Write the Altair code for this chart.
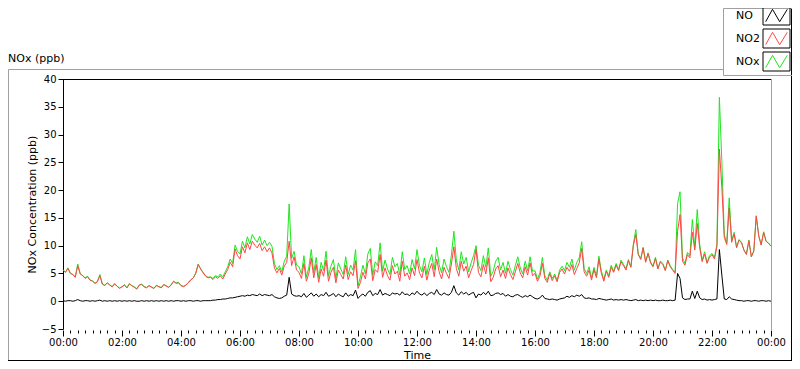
import altair as alt
import pandas as pd

# ---- data (5-minute samples, 00:00 .. 24:00) ----
NO2 = [
    5.6, 5.2, 5.9, 5.0, 4.8, 4.3, 6.4, 4.9, 4.6, 4.1, 4.4, 3.8,
    3.6, 3.2, 3.5, 4.6, 3.1, 2.8, 3.3, 2.9, 2.6, 3.1, 2.7, 2.3,
    2.6, 2.9, 2.4, 3.1, 2.8, 2.5, 2.2, 2.9, 3.0, 2.6, 2.4, 2.8,
    2.5, 2.3, 2.8, 2.6, 2.4, 3.0, 2.7, 2.5, 2.9, 3.6, 3.2, 3.3,
    2.8, 2.6, 2.9, 3.3, 3.8, 4.2, 5.0, 6.6, 5.8, 5.1, 4.5, 4.2,
    4.3, 3.9, 4.4, 4.1, 4.6, 4.0, 4.9, 5.7, 7.0, 6.2, 9.4, 8.2,
    7.6, 9.8, 8.7, 10.5, 9.3, 10.8, 10.1, 9.6, 10.4, 9.1, 9.8, 8.9,
    9.6, 8.7, 6.0, 5.1, 5.9, 4.7, 6.3, 7.0, 10.8, 6.4, 8.0, 5.6,
    5.2, 4.1, 6.8, 3.6, 5.0, 7.8, 4.2, 6.6, 3.4, 5.8, 4.5, 7.4,
    3.6, 5.2, 6.1, 3.3, 5.6, 4.8, 4.0, 6.5, 3.9, 5.3, 4.6, 7.3,
    2.3, 3.4, 5.2, 4.0, 6.9, 7.6, 3.7, 5.7, 5.2, 8.4, 4.3, 6.0,
    4.6, 3.8, 6.4, 4.9, 5.4, 3.6, 7.2, 4.5, 5.1, 3.9, 6.0, 4.6,
    7.5, 5.1, 4.2, 6.3, 3.8, 5.6, 6.8, 4.4, 7.6, 5.3, 4.0, 6.1,
    5.0, 4.1, 6.7, 9.8, 5.9, 4.5, 7.2, 5.4, 6.3, 4.2, 5.5, 6.6,
    9.4, 5.2, 4.4, 6.6, 4.9, 7.8, 3.5, 4.3, 5.8, 6.4, 4.4, 5.6,
    4.1, 6.0, 4.8, 3.9, 5.3, 6.8, 5.1, 4.2, 6.2, 4.7, 6.9, 4.6,
    5.0, 3.6, 4.5, 6.8, 4.1, 3.4, 5.0, 3.7, 4.6, 3.5, 5.2, 5.8,
    4.9, 6.1, 5.4, 6.6, 4.8, 5.9, 6.9, 9.5, 5.3, 4.5, 5.6, 3.8,
    5.7, 4.2, 7.6, 5.0, 3.6, 5.4, 4.3, 6.1, 5.2, 6.5, 5.5, 7.1,
    6.4, 5.6, 7.3, 6.1, 10.0, 12.0, 8.4, 7.5, 9.6, 7.0, 8.6, 6.9,
    6.2, 7.7, 5.8, 7.1, 6.6, 5.5, 7.3, 6.2, 5.6, 5.0, 12.6, 15.6,
    7.2, 6.5, 8.4, 7.8, 12.4, 9.2, 14.0, 9.6, 7.1, 8.5, 6.8, 7.9,
    8.4, 7.6, 9.8, 27.4, 20.5, 11.5, 10.2, 16.8, 10.6, 12.1, 9.6, 11.0,
    10.5, 9.2, 8.4, 10.9, 8.0, 9.0, 15.3, 11.8, 10.1, 12.4, 10.8, 10.4,
    9.9,
]

NO = [
    0.1, 0.0, 0.1, 0.1, 0.0, 0.1, 0.3, 0.1, 0.0, 0.1, 0.1, 0.0,
    0.1, 0.0, 0.1, 0.2, 0.0, 0.1, 0.0, 0.1, 0.0, 0.1, 0.0, 0.1,
    0.0, 0.1, 0.0, 0.1, 0.0, 0.1, 0.0, 0.0, 0.1, 0.0, 0.1, 0.0,
    0.1, 0.0, 0.1, 0.0, 0.1, 0.0, 0.1, 0.0, 0.1, 0.0, 0.1, 0.1,
    0.0, 0.1, 0.0, 0.1, 0.1, 0.0, 0.1, 0.1, 0.0, 0.1, 0.1, 0.1,
    0.1, 0.2, 0.2, 0.3, 0.3, 0.4, 0.4, 0.5, 0.6, 0.6, 0.7, 0.8,
    0.9, 1.0, 0.9, 1.1, 1.0, 1.2, 1.1, 1.0, 1.3, 1.0, 1.2, 1.1,
    1.0, 1.2, 0.8, 0.6, 0.5, 0.6, 0.9, 1.1, 4.3, 1.3, 1.0, 0.9,
    1.0, 0.8, 1.4, 0.7, 1.1, 1.5, 0.9, 1.3, 0.8, 1.2, 1.0, 1.6,
    0.9, 1.1, 1.4, 0.8, 1.3, 1.0, 0.8, 1.5, 0.9, 1.2, 1.0, 2.0,
    0.5, 1.0, 1.3, 0.9, 1.6, 1.9, 1.0, 1.4, 1.2, 2.1, 1.1, 1.4,
    1.2, 1.0, 1.5, 1.3, 1.4, 1.1, 1.7, 1.2, 1.3, 1.0, 1.5, 1.2,
    1.8, 1.3, 1.1, 1.5, 1.0, 1.4, 1.6, 1.2, 2.1, 1.3, 1.1, 1.5,
    1.2, 1.1, 1.6, 2.8, 1.5, 1.1, 1.7, 1.3, 1.6, 1.1, 1.4, 1.6,
    0.6, 1.3, 1.1, 1.6, 1.2, 1.8, 1.0, 1.1, 1.4, 1.5, 1.2, 1.4,
    0.9, 1.2, 0.9, 0.8, 1.1, 1.2, 0.9, 0.7, 1.0, 0.8, 1.1, 0.8,
    0.5, 0.4, 0.6, 1.1, 0.5, 0.4, 0.3, 0.4, 0.3, 0.2, 0.4, 0.5,
    0.6, 0.9, 0.7, 1.0, 0.8, 1.1, 0.9, 1.2, 0.6, 0.5, 0.6, 0.4,
    0.4, 0.3, 0.5, 0.4, 0.3, 0.2, 0.3, 0.4, 0.2, 0.3, 0.2, 0.3,
    0.2, 0.3, 0.2, 0.1, 0.2, 0.3, 0.1, 0.2, 0.1, 0.2, 0.1, 0.2,
    0.1, 0.2, 0.1, 0.1, 0.2, 0.1, 0.1, 0.2, 0.1, 0.2, 5.0, 4.1,
    0.6, 0.3, 0.4, 0.4, 1.8, 0.5, 1.8, 0.6, 0.3, 0.4, 0.2, 0.3,
    0.2, 0.3, 0.4, 9.3, 4.7, 0.4, 0.3, 0.8, 0.4, 0.3, 0.2, 0.1,
    0.1, 0.0, 0.1, 0.1, 0.0, 0.1, 0.1, 0.0, 0.1, 0.1, 0.0, 0.1,
    0.0,
]

NOX = [
    5.7, 5.2, 6.0, 5.1, 4.8, 4.4, 6.7, 5.0, 4.6, 4.2, 4.5, 3.8,
    3.7, 3.2, 3.6, 4.8, 3.1, 2.9, 3.3, 3.0, 2.6, 3.2, 2.7, 2.4,
    2.6, 3.0, 2.4, 3.2, 2.8, 2.6, 2.2, 2.9, 3.1, 2.6, 2.5, 2.8,
    2.6, 2.3, 2.9, 2.6, 2.5, 3.0, 2.8, 2.5, 3.0, 3.6, 3.3, 3.4,
    2.8, 2.7, 2.9, 3.4, 3.9, 4.2, 5.1, 6.7, 5.8, 5.2, 4.6, 4.3,
    4.4, 4.1, 4.6, 4.4, 4.9, 4.4, 5.3, 6.2, 7.6, 6.8, 10.1, 9.0,
    8.5, 10.8, 9.6, 11.6, 10.3, 12.0, 11.2, 10.6, 11.7, 10.1, 11.0, 10.0,
    10.6, 9.9, 6.8, 5.7, 6.4, 5.3, 7.2, 8.1, 17.5, 7.7, 9.0, 6.5,
    6.2, 4.9, 8.2, 4.3, 6.1, 9.3, 5.1, 7.9, 4.2, 7.0, 5.5, 9.0,
    4.5, 6.3, 7.5, 4.1, 6.9, 5.8, 4.8, 8.0, 4.8, 6.5, 5.6, 9.3,
    2.8, 4.4, 6.5, 4.9, 8.5, 9.5, 4.7, 7.1, 6.4, 10.5, 5.4, 7.4,
    5.8, 4.8, 7.9, 6.2, 6.8, 4.7, 8.9, 5.7, 6.4, 4.9, 7.5, 5.8,
    9.3, 6.4, 5.3, 7.8, 4.8, 7.0, 8.4, 5.6, 9.7, 6.6, 5.1, 7.6,
    6.2, 5.2, 8.3, 12.6, 7.4, 5.6, 8.9, 6.7, 7.9, 5.3, 6.9, 8.2,
    10.0, 6.5, 5.5, 8.2, 6.1, 9.6, 4.5, 5.4, 7.2, 7.9, 5.6, 7.0,
    5.0, 7.2, 5.7, 4.7, 6.4, 8.0, 6.0, 4.9, 7.2, 5.5, 8.0, 5.4,
    5.5, 4.0, 5.1, 7.9, 4.6, 3.8, 5.3, 4.1, 4.9, 3.7, 5.6, 6.3,
    5.5, 7.0, 6.1, 7.6, 5.6, 7.0, 7.8, 10.7, 5.9, 5.0, 6.2, 4.2,
    6.1, 4.5, 8.1, 5.4, 3.9, 5.6, 4.6, 6.5, 5.4, 6.8, 5.7, 7.4,
    6.6, 5.9, 7.5, 6.2, 10.2, 12.9, 8.5, 7.7, 9.7, 7.2, 8.7, 7.1,
    6.3, 7.9, 5.9, 7.2, 6.8, 5.6, 7.4, 6.4, 5.7, 5.2, 17.6, 19.7,
    7.8, 6.8, 8.8, 8.2, 14.7, 9.7, 16.5, 10.2, 7.4, 8.9, 7.0, 8.2,
    8.6, 7.9, 10.2, 36.7, 25.2, 11.9, 10.5, 18.6, 11.0, 12.4, 9.8, 11.1,
    10.6, 9.2, 8.5, 11.0, 8.0, 9.1, 15.4, 11.8, 10.2, 12.5, 10.8, 10.5,
    9.9,
]

SERIES = ["NO", "NO2", "NOx"]
COLORS = ["#000000", "#ff4646", "#1ee61e"]
Y_TICKS = [-5, 0, 5, 10, 15, 20, 25, 30, 35, 40]
X_TICKS = [q / 4 for q in range(0, 97)]  # every 15 minutes, hours
SAMPLE_MIN = 5

FONT = "DejaVu Sans"
W, H = 708, 250

hours = [i * SAMPLE_MIN / 60 for i in range(len(NO))]
rows = []
for name, vals in (("NOx", NOX), ("NO2", NO2), ("NO", NO)):
    for h, v in zip(hours, vals):
        rows.append({"hours": h, "series": name, "ppb": v})
df = pd.DataFrame(rows)

# legend symbol shapes (symbolSize 16 -> 1 path unit = 2 px), drawn to the right of the label
ZIGZAG = "M16.25,-4.75M29.75,4.75M17.6,3.1L21.0,-3.1L24.6,3.1L28.4,-3.1"
BOX = "M16.25,-4.75H29.75V4.75H16.25Z"
# the frame legend needs its own domain (else Vega-Lite merges it with the colour legend)
BOX_KEYS = [s + " " for s in SERIES]

LEG_X, LEG_Y = 660, -71
common_legend = dict(
    orient="none",
    legendX=LEG_X,
    legendY=LEG_Y,
    title=None,
    symbolSize=16,
    symbolStrokeWidth=1,
    symbolFillColor="transparent",
    symbolOpacity=1,
    symbolOffset=0,
    labelOffset=0,
    labelFont=FONT,
    labelFontSize=11,
    labelColor="#000000",
    padding=2,
    rowPadding=0,
)

x_enc = alt.X(
    "hours:Q",
    scale=alt.Scale(domain=[0, 24], nice=False, zero=False),
    axis=alt.Axis(
        values=X_TICKS,
        labelExpr="datum.value % 2 == 0 ? (((datum.value % 24) < 10) ? '0' : '') + (datum.value % 24) + ':00' : ''",
        tickSize={"condition": {"test": "datum.value % 2 == 0", "value": 6}, "value": 3},
        tickColor="#000000",
        domain=False,
        grid=False,
        offset=1,
        labelFont=FONT,
        labelFontSize=10,
        labelColor="#000000",
        labelPadding=1,
        labelOverlap=False,
        labelFlush=False,
        title="Time",
        titleFont=FONT,
        titleFontSize=11,
        titleFontWeight="normal",
        titleColor="#000000",
        titleY=25,
        titleBaseline="middle",
    ),
)
y_enc = alt.Y(
    "ppb:Q",
    scale=alt.Scale(domain=[-5, 40], nice=False, zero=False),
    axis=alt.Axis(
        values=Y_TICKS,
        grid=False,
        domainColor="#000000",
        tickColor="#000000",
        tickSize=5,
        labelFont=FONT,
        labelFontSize=10,
        labelColor="#000000",
        labelPadding=2,
        labelFlush=False,
        title="NOx Concentration (ppb)",
        titleFont=FONT,
        titleFontSize=11,
        titleFontWeight="normal",
        titleColor="#000000",
        titleX=-31,
        titleY=H / 2,
        titleAngle=-90,
        titleAlign="center",
        titleBaseline="middle",
    ),
)
color_enc = alt.Color(
    "series:N",
    scale=alt.Scale(domain=SERIES, range=COLORS),
    legend=alt.Legend(symbolType=ZIGZAG, **common_legend),
)

base = alt.Chart(df)
lines = [
    base.transform_filter(alt.datum.series == s)
    .mark_line(strokeWidth=1, interpolate="linear")
    .encode(x=x_enc, y=y_enc, color=color_enc)
    for s in ("NOx", "NO2", "NO")
]

# black swatch frames of the legend (a shape legend; the points themselves are invisible)
swatch_frames = alt.Chart(pd.DataFrame({"series_box": BOX_KEYS})).mark_point(
    filled=False, color="#000000", opacity=0, strokeWidth=1
).encode(
    shape=alt.Shape(
        "series_box:N",
        scale=alt.Scale(domain=BOX_KEYS, range=[BOX, BOX, BOX]),
        legend=alt.Legend(
            symbolType=BOX,
            symbolStrokeColor="#000000",
            strokeColor="#a0a0a0",
            labelOpacity=0,
            **common_legend,
        ),
    )
)

one = pd.DataFrame({"k": [0]})


def rule(x1, x2, y1, y2, color):
    return alt.Chart(one).mark_rule(color=color, strokeWidth=1).encode(
        x=alt.value(x1), x2=alt.value(x2), y=alt.value(y1), y2=alt.value(y2)
    )


frame = [
    rule(0, W + 1, 0.5, 0.5, "#000000"),          # plot top border
    rule(W + 0.5, W + 0.5, 0, H + 2, "#a0a0a0"),   # plot right border
    rule(-54.5, LEG_X, -9.5, -9.5, "#a0a0a0"),     # outer top
    rule(-54.5, -54.5, -9.5, 281.5, "#a0a0a0"),    # outer left
    rule(-55, 729, 281.5, 281.5, "#000000"),       # outer bottom
    rule(728.5, 728.5, -71, 282, "#000000"),       # outer right
]

caption = alt.Chart(one).mark_text(
    text="NOx (ppb)", font=FONT, fontSize=11, color="#000000",
    align="left", baseline="middle",
).encode(x=alt.value(-55), y=alt.value(-20))

chart = alt.layer(*lines, swatch_frames, *frame, caption).properties(
    width=W,
    height=H,
    autosize=alt.AutoSizeParams(type="none"),
    padding={"left": 55, "top": 71, "right": 21, "bottom": 32},
    background="white",
).configure_view(stroke=None)

chart.save("out.html", embed_options={"renderer": "svg", "actions": False})
